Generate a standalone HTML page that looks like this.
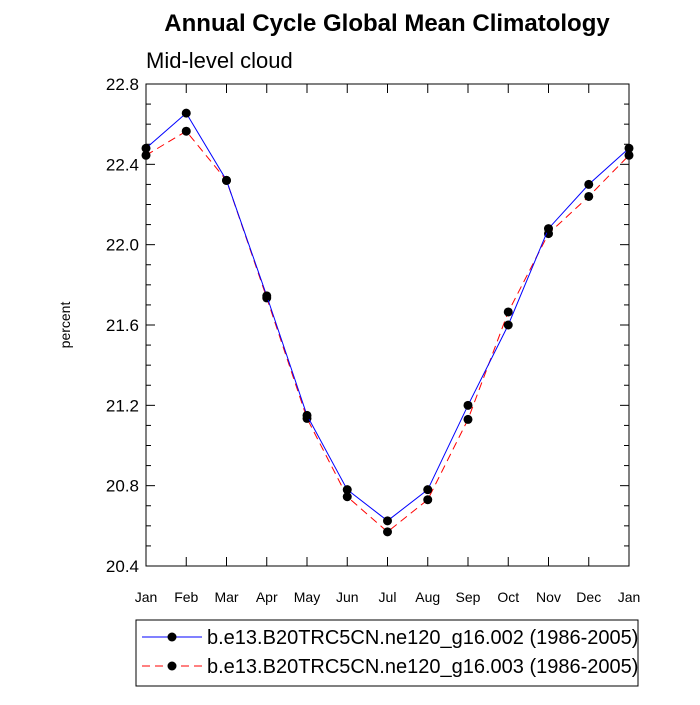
<!DOCTYPE html>
<html><head><meta charset="utf-8"><style>
body{margin:0;background:#fff;font-family:"Liberation Sans",Helvetica,Arial,sans-serif}
</style></head><body>
<svg id="chart" width="700" height="700" xmlns="http://www.w3.org/2000/svg" font-family="Liberation Sans, Arial, sans-serif">
<rect width="700" height="700" fill="#fff"/>
<text x="387" y="31" text-anchor="middle" font-size="24" font-weight="bold">Annual Cycle Global Mean Climatology</text>
<text x="146" y="68" font-size="22">Mid-level cloud</text>
<text transform="translate(70,325) rotate(-90)" text-anchor="middle" font-size="14">percent</text>
<g id="axes"></g>
<g id="series"></g>
<g id="legend">
<rect x="136" y="620" width="502" height="66" fill="#fff" stroke="#000" stroke-width="1"/>
<line x1="142" y1="637" x2="202" y2="637" stroke="#0000ff" stroke-width="1"/>
<circle cx="172" cy="637" r="4.5" fill="#000"/>
<text x="207" y="644" font-size="20">b.e13.B20TRC5CN.ne120_g16.002 (1986-2005)</text>
<line x1="142" y1="666" x2="202" y2="666" stroke="#ff0000" stroke-width="1" stroke-dasharray="8,5"/>
<circle cx="172" cy="666" r="4.5" fill="#000"/>
<text x="207" y="673" font-size="20">b.e13.B20TRC5CN.ne120_g16.003 (1986-2005)</text>
</g>
</svg>
<script>
const months=["Jan","Feb","Mar","Apr","May","Jun","Jul","Aug","Sep","Oct","Nov","Dec","Jan"];
const series002=[22.48,22.655,22.32,21.745,21.15,20.78,20.625,20.78,21.2,21.6,22.08,22.3,22.48];
const series003=[22.445,22.565,22.32,21.735,21.135,20.745,20.57,20.73,21.13,21.665,22.055,22.24,22.445];
const yTicks=["20.4","20.8","21.2","21.6","22.0","22.4","22.8"];
const X0=146,X1=629,Y0=566,Y1=84,YMIN=20.4,YMAX=22.8;
const NS="http://www.w3.org/2000/svg";
function xs(i){return X0+(X1-X0)*i/(months.length-1);}
function ys(v){return Y0-(v-YMIN)/(YMAX-YMIN)*(Y0-Y1);}
function mk(tag,attrs,parent){const e=document.createElementNS(NS,tag);for(const k in attrs)e.setAttribute(k,attrs[k]);parent.appendChild(e);return e;}
const ax=document.getElementById('axes');
const frame=mk('rect',{x:X0,y:Y1,width:X1-X0,height:Y0-Y1,fill:'none',stroke:'#000','stroke-width':1},ax);


for(let v=YMIN;v<=YMAX+1e-6;v+=0.1){
  const y=ys(v);const major=Math.abs((v-YMIN)/0.4-Math.round((v-YMIN)/0.4))<1e-6;const L=major?9:5;
  mk('line',{x1:X0,y1:y,x2:X0+L,y2:y,stroke:'#000'},ax);
  mk('line',{x1:X1,y1:y,x2:X1-L,y2:y,stroke:'#000'},ax);
}
yTicks.forEach(t=>{
  const tx=mk('text',{x:X0-7,y:ys(parseFloat(t))+6,'text-anchor':'end','font-size':17},ax);tx.textContent=t;
  
  
});
months.forEach((m,i)=>{
  const x=xs(i);
  mk('line',{x1:x,y1:Y0,x2:x,y2:Y0-9,stroke:'#000'},ax);
  mk('line',{x1:x,y1:Y1,x2:x,y2:Y1+9,stroke:'#000'},ax);
  const tx=mk('text',{x:x,y:Y0+36,'text-anchor':'middle','font-size':14},ax);tx.textContent=m;
  
  
});
const sg=document.getElementById('series');
function draw(data,color,dash,name){
  const pts=data.map((v,i)=>xs(i)+','+ys(v)).join(' ');
  const pl=mk('polyline',{points:pts,fill:'none',stroke:color,'stroke-width':1,'stroke-dasharray':dash},sg);
  
  
  data.forEach((v,i)=>{
    const c=mk('circle',{cx:xs(i),cy:ys(v),r:4.5,fill:'#000'},sg);
    
    
  });
}
draw(series003,'#ff0000','8,5','series-003');
draw(series002,'#0000ff','none','series-002');
</script>
</body></html>
